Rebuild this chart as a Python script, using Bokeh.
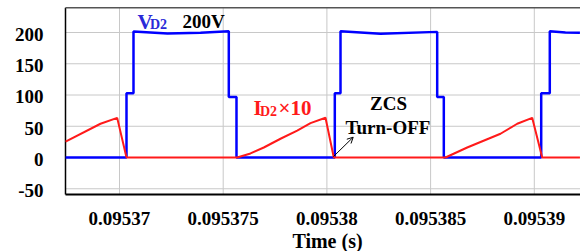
from bokeh.plotting import figure
from bokeh.models import Range1d, Label, Arrow, OpenHead
from bokeh.embed import file_html
from bokeh.resources import INLINE

# ---- data ----
blue_t = [0.0953674, 0.0953703375, 0.0953703375, 0.095370675, 0.095370675, 0.095372314,
          0.095373905, 0.09537527, 0.09537527, 0.095375641, 0.095375641,
          0.095380381, 0.095380381, 0.095380656, 0.095380656, 0.095382584,
          0.095385318, 0.095385318, 0.095385637, 0.095385637,
          0.095390333, 0.095390333, 0.095390747, 0.095390747, 0.095391500, 0.0953922]
blue_v = [0, 0, 103, 103, 201.5, 198.5,
          199.5, 202, 97, 97, 0,
          0, 103, 103, 202, 198,
          201, 97, 97, 0,
          0, 103, 103, 202, 200, 199.5]

red_t = [0.0953674, 0.095369084, 0.095369889, 0.0953703375,
         0.095375675, 0.095376316, 0.095376958, 0.095377763, 0.095378568, 0.095379209,
         0.095379933, 0.095380333,
         0.095385718, 0.095386765, 0.09538837, 0.095389176, 0.095389899, 0.095390381,
         0.0953922]
red_v = [25.5, 54, 63.4, 0,
         0, 6.5, 16, 30, 43, 55,
         63.5, 0,
         0, 16, 38, 54, 63.5, 0,
         0]

x_ticks = [0.09537, 0.095375, 0.09538, 0.095385, 0.09539]
x_tick_labels = ["0.09537", "0.095375", "0.09538", "0.095385", "0.09539"]
y_ticks = [-50, 0, 50, 100, 150, 200]
y_tick_labels = ["-50", "0", "50", "100", "150", "200"]
x_title = "Time (s)"

# plotting area (axes box) and the full canvas range around it
X_START, X_END = 0.0953673963, 0.0953922276
Y_START, Y_END = -59.2, 239.5
CX0, CY0, CY1 = 0.0953642623, -150.4, 251.2

FONT = "'Liberation Serif'"

p = figure(width=580, height=251, output_backend="svg", toolbar_location=None,
           x_range=Range1d(CX0, X_END), y_range=Range1d(CY0, CY1),
           x_axis_location=None, y_axis_location=None,
           min_border_left=0, min_border_right=0, min_border_top=0, min_border_bottom=0)
p.outline_line_color = None
p.background_fill_color = "white"
p.grid.visible = False

n_x, n_y = len(x_ticks), len(y_ticks)
# grid lines at the ticks
p.segment(x0=x_ticks, y0=[Y_START] * n_x, x1=x_ticks, y1=[Y_END] * n_x,
          line_color="#c8c8c8", line_width=1)
p.segment(x0=[X_START] * n_y, y0=y_ticks, x1=[X_END] * n_y, y1=y_ticks,
          line_color="#c8c8c8", line_width=1)
# box lines: left and bottom axes, top border
p.segment(x0=[X_START], y0=[Y_START], x1=[X_START], y1=[Y_END], line_color="black", line_width=1.5)
p.segment(x0=[X_START], y0=[Y_START], x1=[X_END], y1=[Y_START], line_color="black", line_width=2)
p.segment(x0=[X_START], y0=[Y_END], x1=[X_END], y1=[Y_END], line_color="#555555", line_width=1.5)

# waveforms
p.line(blue_t, blue_v, line_color="#0000ff", line_width=2.5)
p.line(red_t, red_v, line_color="#ff1a1a", line_width=2)


def lab(x, y, text, size, color, align="left"):
    p.add_layout(Label(x=x, y=y + 8.8, text=text, text_font=FONT, text_font_style="bold",
                       text_font_size=size, text_color=color, text_align=align,
                       text_baseline="alphabetic"))


# tick labels and axis title
for xv, tx in zip(x_ticks, x_tick_labels):
    lab(xv, -106.1, tx, "19px", "black", "center")
for yv, tx in zip(y_ticks, y_tick_labels):
    lab(0.0953663356, yv - 11.7, tx, "19px", "black", "right")
lab(0.095380029, -141.9, x_title, "20px", "black", "center")

# annotations
lab(0.095370868, 208.5, "V", "21px", "#2a2ad8")
lab(0.095371471, 204.3, "D2", "14px", "#2a2ad8")
lab(0.095373038, 208.5, "200V", "19px", "black")

lab(0.095376461, 69.9, "I", "21px", "#ff1a1a")
lab(0.095376774, 65.6, "D2", "14px", "#ff1a1a")
lab(0.095377666, 69.9, "×10", "21px", "#ff1a1a")

lab(0.09538297, 78.4, "ZCS", "19px", "black", "center")
lab(0.095382946, 38.9, "Turn-OFF", "19px", "black", "center")

p.add_layout(Arrow(x_start=0.095380318, y_start=1.6, x_end=0.095381268, y_end=32.5,
                   line_color="black", line_width=1,
                   end=OpenHead(size=6, line_color="black", line_width=1)))

open("out.html", "w").write(file_html(p, INLINE))
